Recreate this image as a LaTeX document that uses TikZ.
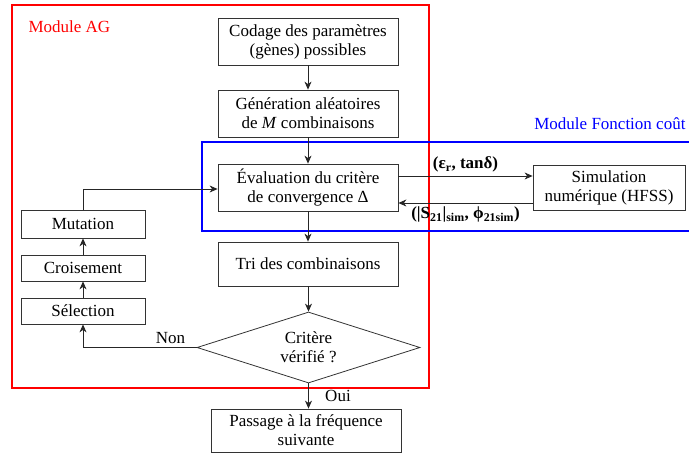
\documentclass[tikz,border=0pt]{standalone}
\usepackage{fontspec}
\setmainfont{Liberation Serif}
\usetikzlibrary{shapes.geometric,arrows.meta}

\tikzset{
	bloc/.style={draw=black!80,rectangle,line width=0.8pt,minimum width=180pt,minimum height=47pt,align=center,inner sep=1pt},
	petit/.style={draw=black!80,rectangle,line width=0.8pt,minimum width=124pt,minimum height=27pt,inner sep=1pt},
	fleche/.style={draw=black!85,line width=0.8pt,-{Stealth[length=8pt,width=7pt,inset=2.5pt]}}
}

\begin{document}
\begin{tikzpicture}[x=1pt,y=-1pt,font=\fontsize{17}{19}\selectfont]
	\useasboundingbox (0,0) rectangle (689,453);

	% les deux modules
	\draw[red,line width=1.8pt] (12,5) rectangle (429,388);
	\draw[blue,line width=1.8pt] (202,142) rectangle (700,231);
	\node[red,anchor=west] (moduleag) at (25,27) {Module AG};
	\node[blue,anchor=east] (modulefc) at (689,124) {Module Fonction coût};

	\begin{scope}[every node/.style={bloc}]
		\node (codage) at (308,41.5) {Codage des paramètres\\(gènes) possibles};
		\node (generation) at (308,113.5) {Génération aléatoires\\de \textit{M} combinaisons};
		\node (evaluation) at (308,187.5) {Évaluation du critère\\de convergence Δ};
		\node[minimum height=44pt] (tri) at (308,264) {Tri des combinaisons};
		\node[minimum width=190pt,minimum height=43pt] (passage) at (306,430.5) {Passage à la fréquence\\suivante};
		\node[minimum width=152pt,minimum height=45pt] (simulation) at (609,187.5) {Simulation\\numérique (HFSS)};
	\end{scope}

	\node[diamond,draw=black!80,line width=0.8pt,aspect=3.14,minimum width=223pt,minimum height=71pt,inner sep=0pt,align=center] (critere) at (308.5,347.5) {Critère\\vérifié ?};

	\begin{scope}[every node/.style={petit}]
		\node[minimum height=28pt] (mutation) at (83,224) {Mutation};
		\node[minimum height=26pt] (croisement) at (83,268) {Croisement};
		\node[minimum height=26pt] (selection) at (83,311) {Sélection};
	\end{scope}

	% boucle principale
	\draw[fleche] (codage) -- (generation);
	\draw[fleche] (generation) -- (evaluation);
	\draw[fleche] (evaluation) -- (tri);
	\draw[fleche] (tri.south -| critere.north) -- (critere.north);
	\draw[fleche] (critere.south) -- node[right,xshift=13pt] (oui) {Oui} (critere.south |- passage.north);
	\draw[fleche] (critere.west) -- (selection.south |- critere.west) node[pos=0.23,above] (non) {Non} -- (selection.south);
	\draw[fleche] (selection) -- (croisement);
	\draw[fleche] (croisement) -- (mutation);
	\draw[fleche] (mutation.north) |- ([yshift=-1.5pt]evaluation.west);

	% echanges avec la simulation
	\coordinate (aller) at ([yshift=11.5pt]evaluation.east);
	\coordinate (retour) at ([yshift=-15.5pt]simulation.west);
	\draw[fleche] (aller) -- (simulation.west |- aller) node[midway,above,font=\fontsize{17}{19}\bfseries] (param) {(ε\textsubscript{r}, tanδ)};
	\draw[fleche] (retour) -- (evaluation.east |- retour) node[midway,below,font=\fontsize{17}{19}\bfseries] (sortie) {(|S\textsubscript{21}|\textsubscript{sim}, ϕ\textsubscript{21sim})};

\end{tikzpicture}
\end{document}
